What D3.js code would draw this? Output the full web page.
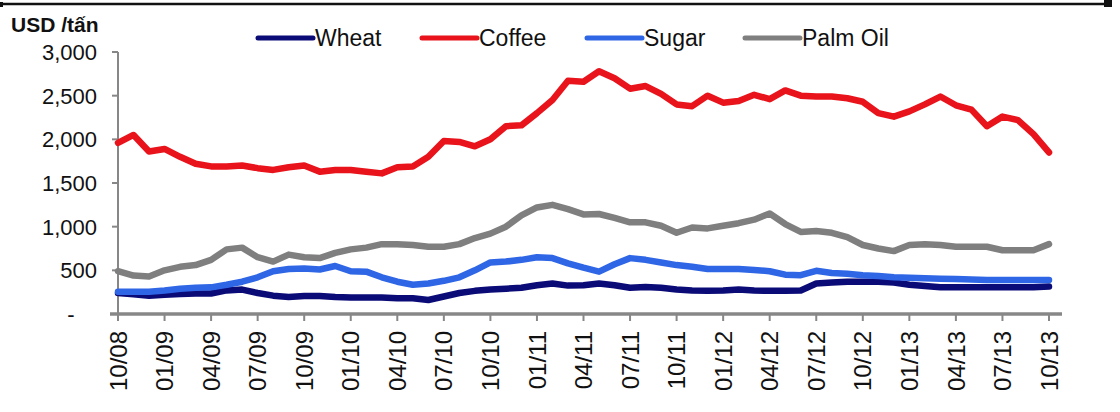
<!DOCTYPE html>
<html>
<head>
<meta charset="utf-8">
<script src="https://cdn.jsdelivr.net/npm/d3@7"></script>
<style>
  body { margin: 0; background: #fff; }
  svg { display: block; font-family: "Liberation Sans", Arial, sans-serif; }
</style>
</head>
<body>
<svg id="chart" width="1120" height="412"></svg>
<script>
// monthly prices, 10/08 .. 10/13 (USD / tấn)
const wheat = [240, 225, 210, 220, 230, 235, 235, 270, 280, 240, 210, 195, 205, 205, 195, 190, 190, 190, 180, 180,
  160, 200, 240, 265, 280, 290, 300, 330, 350, 325, 330, 350, 330, 300, 310, 300, 280, 270, 265, 270,
  280, 270, 265, 265, 270, 350, 360, 370, 370, 370, 360, 335, 320, 305, 305, 305, 305, 305, 305, 305, 315];
const coffee = [1960, 2050, 1860, 1890, 1800, 1720, 1690, 1690, 1700, 1670, 1650, 1680, 1700, 1630, 1650, 1650, 1630, 1610, 1680, 1690,
  1800, 1980, 1970, 1920, 2000, 2150, 2160, 2300, 2450, 2670, 2660, 2780, 2700, 2580, 2610, 2520, 2400, 2380, 2500, 2420,
  2440, 2510, 2460, 2560, 2500, 2490, 2490, 2470, 2430, 2300, 2260, 2320, 2400, 2490, 2390, 2340, 2150, 2260, 2220, 2060, 1850];
const sugar = [255, 255, 255, 270, 290, 300, 305, 335, 370, 420, 490, 515, 520, 510, 550, 490, 485, 420, 370, 335,
  350, 380, 420, 500, 590, 600, 620, 650, 640, 580, 530, 485, 570, 640, 620, 590, 560, 540, 515, 515,
  515, 505, 490, 450, 445, 495, 470, 460, 445, 435, 420, 415, 410, 405, 400, 395, 390, 390, 390, 390, 390];
const palmOil = [490, 440, 430, 500, 540, 560, 620, 740, 760, 650, 600, 680, 650, 640, 700, 740, 760, 800, 800, 790,
  770, 770, 800, 870, 920, 1000, 1130, 1220, 1250, 1200, 1140, 1145, 1100, 1050, 1050, 1010, 930, 990, 980, 1010,
  1040, 1080, 1150, 1030, 940, 950, 930, 880, 790, 750, 720, 790, 800, 790, 770, 770, 770, 730, 730, 730, 800];

const tickLabels = ["10/08", "01/09", "04/09", "07/09", "10/09", "01/10", "04/10", "07/10", "10/10", "01/11", "04/11",
  "07/11", "10/11", "01/12", "04/12", "07/12", "10/12", "01/13", "04/13", "07/13", "10/13"];
const yTicks = [0, 500, 1000, 1500, 2000, 2500, 3000];

const series = [
  { name: "Wheat", values: wheat, color: "#0b0b78" },
  { name: "Coffee", values: coffee, color: "#e8131b" },
  { name: "Sugar", values: sugar, color: "#2f66e6" },
  { name: "Palm Oil", values: palmOil, color: "#7f7f7f" },
];

const svg = d3.select("#chart");
const axisColor = "#878787";

const x = d3.scaleLinear().domain([0, wheat.length - 1]).range([118, 1049]);
const y = d3.scaleLinear().domain([0, 3000]).range([314, 52]);

// top rule
svg.append("line")
  .attr("x1", 0).attr("x2", 1110)
  .attr("y1", 4).attr("y2", 4)
  .attr("stroke", "#111").attr("stroke-width", 2.5);
svg.append("rect").attr("x", 1104).attr("y", 0).attr("width", 8).attr("height", 7).attr("fill", "#111");
svg.append("rect").attr("x", 0).attr("y", 2).attr("width", 3).attr("height", 5).attr("fill", "#111");

// title
svg.append("text")
  .attr("x", 11).attr("y", 32)
  .attr("font-size", 21).attr("font-weight", "bold")
  .attr("fill", "#111")
  .text("USD /tấn");

// y axis
svg.append("line")
  .attr("x1", 118).attr("x2", 118)
  .attr("y1", y(3000)).attr("y2", y(0))
  .attr("stroke", axisColor).attr("stroke-width", 2);

const yt = svg.append("g");
yt.selectAll("line")
  .data(yTicks)
  .join("line")
  .attr("x1", 112).attr("x2", 118)
  .attr("y1", (d) => y(d)).attr("y2", (d) => y(d))
  .attr("stroke", axisColor).attr("stroke-width", 2);
yt.selectAll("text")
  .data(yTicks)
  .join("text")
  .attr("x", (d) => (d === 0 ? 71 : 97))
  .attr("y", (d) => y(d))
  .attr("dy", "0.36em")
  .attr("text-anchor", (d) => (d === 0 ? "middle" : "end"))
  .attr("font-size", 22)
  .attr("fill", "#111")
  .text((d) => (d === 0 ? "-" : d3.format(",")(d)));

// x axis
svg.append("line")
  .attr("x1", 110).attr("x2", 1062)
  .attr("y1", y(0)).attr("y2", y(0))
  .attr("stroke", axisColor).attr("stroke-width", 3.5);

const xt = svg.append("g");
xt.selectAll("line")
  .data(tickLabels)
  .join("line")
  .attr("x1", (d, i) => x(i * 3)).attr("x2", (d, i) => x(i * 3))
  .attr("y1", y(0)).attr("y2", y(0) + 7)
  .attr("stroke", axisColor).attr("stroke-width", 2);
xt.selectAll("text")
  .data(tickLabels)
  .join("text")
  .attr("transform", (d, i) => `translate(${x(i * 3)},331) rotate(-90)`)
  .attr("dy", "0.36em")
  .attr("text-anchor", "end")
  .attr("font-size", 24)
  .attr("fill", "#111")
  .text((d) => d);

// lines
const line = d3.line()
  .x((d, i) => x(i))
  .y((d) => y(d));

svg.append("g")
  .selectAll("path")
  .data(series)
  .join("path")
  .attr("d", (d) => line(d.values))
  .attr("fill", "none")
  .attr("stroke", (d) => d.color)
  .attr("stroke-width", 6.5)
  .attr("stroke-linejoin", "round")
  .attr("stroke-linecap", "round");

// legend
const legendX = [258, 422, 587, 745];
const legend = svg.append("g")
  .selectAll("g")
  .data(series)
  .join("g")
  .attr("transform", (d, i) => `translate(${legendX[i]},38)`);
legend.append("line")
  .attr("x1", 0).attr("x2", 55)
  .attr("stroke", (d) => d.color)
  .attr("stroke-width", 5)
  .attr("stroke-linecap", "round");
legend.append("text")
  .attr("x", 57)
  .attr("dy", "0.36em")
  .attr("font-size", 23)
  .attr("fill", "#111")
  .text((d) => d.name);
</script>
</body>
</html>
